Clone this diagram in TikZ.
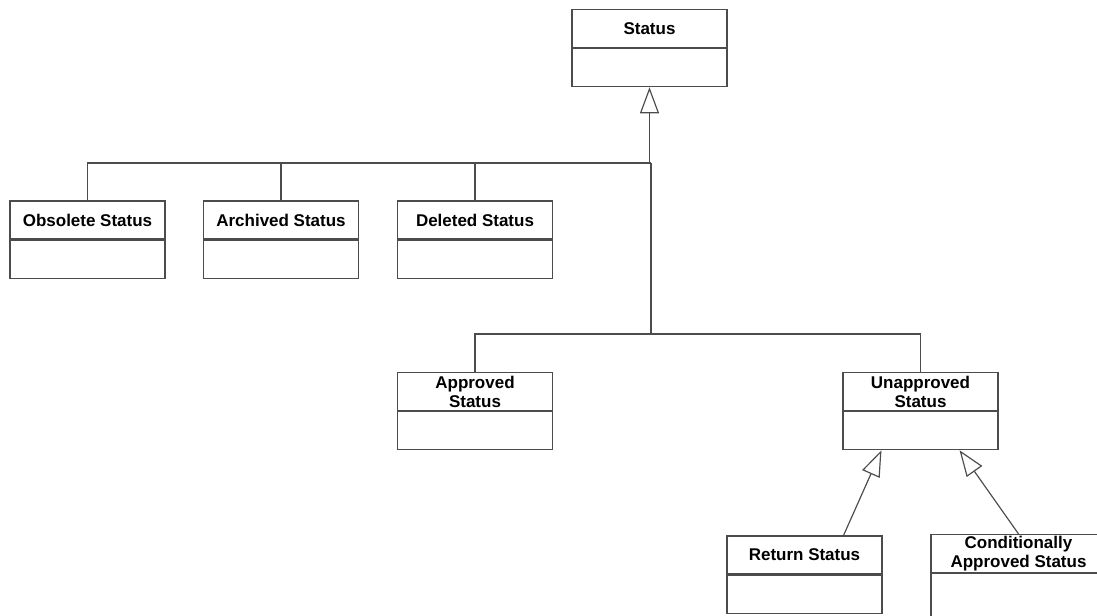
\documentclass[tikz,border=0pt]{standalone}
\usepackage{fontspec}
\setmainfont{Liberation Sans}
\usepackage{tikz}
\usetikzlibrary{positioning}
\usetikzlibrary{arrows.meta}
\usetikzlibrary{calc}

\tikzset{
  classname/.style={draw=black!70, line width=1pt, fill=white, inner sep=0pt,
    minimum width=46.5mm, minimum height=11.4mm, align=center,
    font=\bfseries\fontsize{14.5}{16.2}\selectfont},
  classbody/.style={draw=black!70, line width=1pt, inner sep=0pt,
    minimum width=46.5mm, minimum height=11.4mm},
  inherit/.style={draw=black!70, line width=1pt,
    -{Triangle[open, length=7.8mm, width=5.7mm]}},
  link/.style={draw=black!70, line width=1pt}
}

\begin{document}
\begin{tikzpicture}[x=0.3mm, y=-0.3mm]

\useasboundingbox (0,0) rectangle (1097,616);
\clip (0,0) rectangle (1097,616);

\node[classname] (status) at (649.5,28.5) {Status};
\node[classbody, below=0pt of status] (status-body) {};

\node[classname] (obsolete) at (87.5,220) {Obsolete Status};
\node[classbody, below=0pt of obsolete] (obsolete-body) {};
\node[classname] (archived) at (281,220) {Archived Status};
\node[classbody, below=0pt of archived] (archived-body) {};
\node[classname] (deleted) at (475,220) {Deleted Status};
\node[classbody, below=0pt of deleted] (deleted-body) {};

\node[classname] (approved) at (475,391.5) {Approved\\Status};
\node[classbody, below=0pt of approved] (approved-body) {};
\node[classname] (unapproved) at (920.5,391.5) {Unapproved\\Status};
\node[classbody, below=0pt of unapproved] (unapproved-body) {};

\node[classname] (return) at (804.5,555) {Return Status};
\node[classbody, below=0pt of return] (return-body) {};
\node[classname, minimum width=52.5mm] (conditional) at (1018.5,553.5) {Conditionally\\Approved Status};
\node[classbody, minimum width=52.5mm, minimum height=20mm, below=0pt of conditional] (conditional-body) {};

\coordinate (hub) at (651,163);
\coordinate (low-hub) at (651,334);

\draw[inherit] (status-body.south |- hub) -- (status-body.south);
\draw[link] (obsolete.north) |- (hub);
\draw[link] (archived.north) -- (archived.north |- hub);
\draw[link] (deleted.north) -- (deleted.north |- hub);
\draw[link] (hub) -- (low-hub);
\draw[link] (approved.north) |- (low-hub) -| (unapproved.north);

\draw[inherit] ($(return.north)!0.5!(return.north east)$) -- ($(unapproved-body.south)!0.5!(unapproved-body.south west)$);
\draw[inherit] (conditional.north) -- ($(unapproved-body.south)!0.5!(unapproved-body.south east)$);

\end{tikzpicture}
\end{document}
